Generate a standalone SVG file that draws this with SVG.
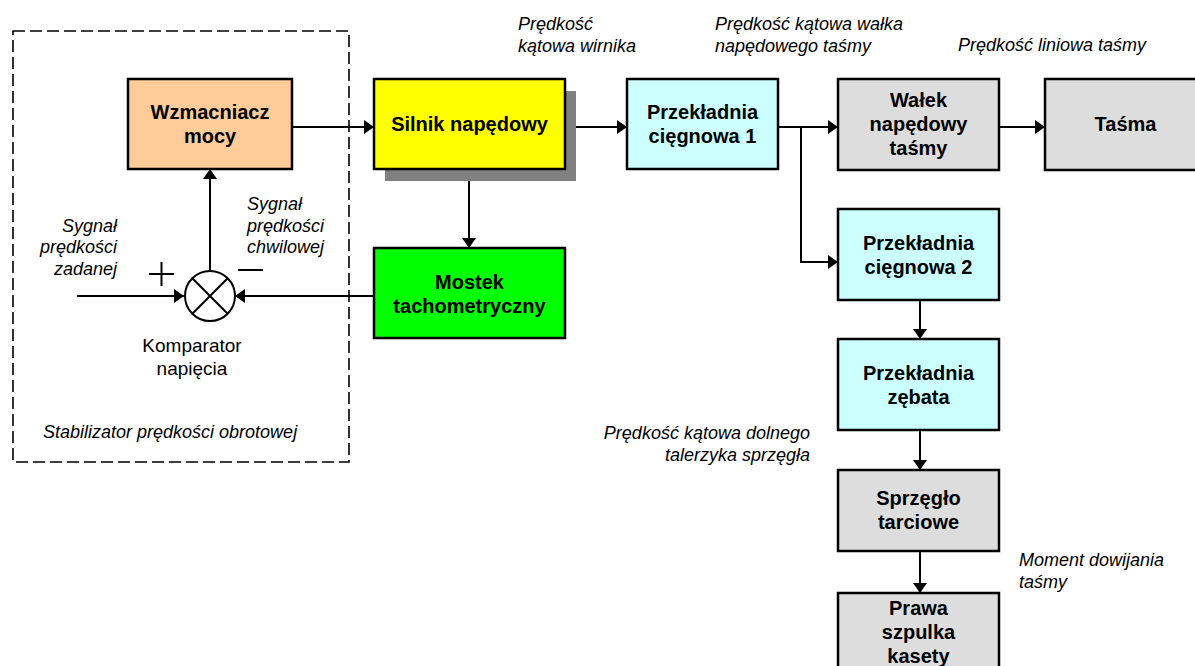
<svg xmlns="http://www.w3.org/2000/svg" width="1195" height="666" viewBox="0 0 1195 666">
<defs>
<style>
.box{stroke:#000;stroke-width:2.5}
.b{font-family:"Liberation Sans",Arial,sans-serif;font-size:20px;font-weight:bold;fill:#000;text-anchor:middle}
.r{font-family:"Liberation Sans",Arial,sans-serif;font-size:19px;fill:#000;text-anchor:middle}
.i{font-family:"Liberation Sans",Arial,sans-serif;font-size:18px;font-style:italic;fill:#000}
.ln{fill:none;stroke:#000;stroke-width:2}
</style>
<marker id="ah" markerUnits="userSpaceOnUse" markerWidth="11" markerHeight="15" refX="10" refY="7.5" orient="auto">
<path d="M0,0.5 L10,7.5 L0,14.5 z" fill="#000"/>
</marker>
</defs>
<rect width="1195" height="666" fill="#fff"/>

<g id="stabilizator">
<rect x="13" y="31" width="336" height="431" fill="none" stroke="#000" stroke-width="1.6" stroke-dasharray="12 5"/>
<text class="i" x="43" y="438">Stabilizator prędkości obrotowej</text>
</g>

<g id="connectors">
<line class="ln" x1="292" y1="127" x2="374" y2="127" marker-end="url(#ah)"/>
<line class="ln" x1="576" y1="127" x2="627" y2="127" marker-end="url(#ah)"/>
<line class="ln" x1="469" y1="181" x2="469" y2="248" marker-end="url(#ah)"/>
<line class="ln" x1="778" y1="127" x2="838" y2="127" marker-end="url(#ah)"/>
<polyline class="ln" points="801,127 801,262 838,262" marker-end="url(#ah)"/>
<line class="ln" x1="999" y1="127" x2="1045" y2="127" marker-end="url(#ah)"/>
<line class="ln" x1="920" y1="300" x2="920" y2="339" marker-end="url(#ah)"/>
<line class="ln" x1="920" y1="430" x2="920" y2="470" marker-end="url(#ah)"/>
<line class="ln" x1="920" y1="551" x2="920" y2="593" marker-end="url(#ah)"/>
<line class="ln" x1="374" y1="296" x2="235" y2="296" marker-end="url(#ah)"/>
<line class="ln" x1="77" y1="296" x2="184" y2="296" marker-end="url(#ah)"/>
<line class="ln" x1="210" y1="271" x2="210" y2="169" marker-end="url(#ah)"/>
</g>

<g id="wzmacniacz">
<rect class="box" x="128" y="79" width="164" height="90" fill="#FFCC99"/>
<text class="b" x="210" y="119">Wzmacniacz</text>
<text class="b" x="210" y="143">mocy</text>
</g>

<g id="silnik">
<rect x="385" y="91" width="191" height="90" fill="#808080"/>
<rect class="box" x="374" y="79" width="191" height="90" fill="#FFFF00"/>
<text class="b" x="469.5" y="131">Silnik napędowy</text>
</g>

<g id="mostek">
<rect class="box" x="374" y="248" width="191" height="90" fill="#00FF00"/>
<text class="b" x="469.5" y="289">Mostek</text>
<text class="b" x="469.5" y="313">tachometryczny</text>
</g>

<g id="komparator">
<circle cx="210" cy="296" r="25" fill="#fff" stroke="#000" stroke-width="2"/>
<line x1="192.3" y1="278.3" x2="227.7" y2="313.7" stroke="#000" stroke-width="2"/>
<line x1="227.7" y1="278.3" x2="192.3" y2="313.7" stroke="#000" stroke-width="2"/>
<line x1="149" y1="274" x2="174" y2="274" stroke="#000" stroke-width="2"/>
<line x1="161.5" y1="262" x2="161.5" y2="286" stroke="#000" stroke-width="2"/>
<line x1="238" y1="270" x2="263" y2="270" stroke="#000" stroke-width="2"/>
<text class="r" x="192" y="352">Komparator</text>
<text class="r" x="192" y="375">napięcia</text>
</g>

<g id="label-zadanej">
<text class="i" x="117" y="232" text-anchor="end">Sygnał</text>
<text class="i" x="117" y="253" text-anchor="end">prędkości</text>
<text class="i" x="117" y="275" text-anchor="end">zadanej</text>
</g>

<g id="label-chwilowej">
<text class="i" x="247" y="210">Sygnał</text>
<text class="i" x="247" y="232">prędkości</text>
<text class="i" x="247" y="253">chwilowej</text>
</g>

<g id="przekladnia1">
<rect class="box" x="627" y="79" width="151" height="90" fill="#CCFFFF"/>
<text class="b" x="702.5" y="119">Przekładnia</text>
<text class="b" x="702.5" y="143">cięgnowa 1</text>
</g>

<g id="walek">
<rect class="box" x="838" y="79" width="161" height="91" fill="#DDDDDD"/>
<text class="b" x="918.5" y="107">Wałek</text>
<text class="b" x="918.5" y="131">napędowy</text>
<text class="b" x="918.5" y="155">taśmy</text>
</g>

<g id="tasma">
<rect class="box" x="1045" y="79" width="161" height="91" fill="#DDDDDD"/>
<text class="b" x="1125.5" y="131">Taśma</text>
</g>

<g id="przekladnia2">
<rect class="box" x="838" y="209" width="161" height="91" fill="#CCFFFF"/>
<text class="b" x="918.5" y="250">Przekładnia</text>
<text class="b" x="918.5" y="274">cięgnowa 2</text>
</g>

<g id="przekladnia-zebata">
<rect class="box" x="838" y="339" width="161" height="91" fill="#CCFFFF"/>
<text class="b" x="918.5" y="380">Przekładnia</text>
<text class="b" x="918.5" y="404">zębata</text>
</g>

<g id="sprzeglo">
<rect class="box" x="838" y="470" width="161" height="81" fill="#DDDDDD"/>
<text class="b" x="918.5" y="505">Sprzęgło</text>
<text class="b" x="918.5" y="529">tarciowe</text>
</g>

<g id="szpulka">
<rect class="box" x="838" y="593" width="161" height="91" fill="#DDDDDD"/>
<text class="b" x="918.5" y="615">Prawa</text>
<text class="b" x="918.5" y="639">szpulka</text>
<text class="b" x="918.5" y="663">kasety</text>
</g>

<g id="labels">
<text class="i" x="518" y="30">Prędkość</text>
<text class="i" x="518" y="52">kątowa wirnika</text>
<text class="i" x="715" y="30">Prędkość kątowa wałka</text>
<text class="i" x="715" y="52">napędowego taśmy</text>
<text class="i" x="958" y="51">Prędkość liniowa taśmy</text>
<text class="i" x="810" y="439" text-anchor="end">Prędkość kątowa dolnego</text>
<text class="i" x="810" y="461" text-anchor="end">talerzyka sprzęgła</text>
<text class="i" x="1019" y="566">Moment dowijania</text>
<text class="i" x="1019" y="588">taśmy</text>
</g>
</svg>
